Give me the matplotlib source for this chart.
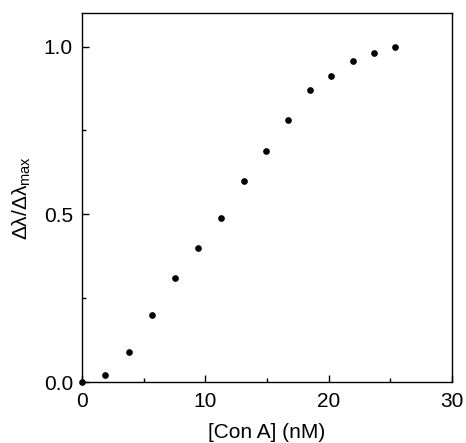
import numpy as np
import matplotlib
matplotlib.use("Agg")
import matplotlib.pyplot as plt
from matplotlib.ticker import MultipleLocator, FormatStrFormatter

plt.rcParams['font.family'] = ['Liberation Sans', 'DejaVu Sans']
plt.rcParams['mathtext.fontset'] = 'custom'
plt.rcParams['mathtext.rm'] = 'Liberation Sans'
plt.rcParams['mathtext.it'] = 'Liberation Sans'

# Con A concentration (nM) and normalised wavelength shift
con_a = [0.0, 1.87, 3.78, 5.68, 7.57, 9.4, 11.27, 13.1, 14.9, 16.7, 18.46, 20.2, 21.98, 23.7, 25.4]
shift = [0.0, 0.022, 0.089, 0.20, 0.311, 0.40, 0.49, 0.60, 0.69, 0.78, 0.869, 0.912, 0.957, 0.98, 1.0]

fig = plt.figure(figsize=(4.66, 4.43), dpi=100)
ax = fig.add_axes([82 / 466, 1 - 382 / 443, 370 / 466, 369 / 443])

ax.plot(con_a, shift, 'o', color='black', markersize=3.8, clip_on=False, zorder=3)

ax.set_xlim(0, 30)
ax.set_ylim(0, 1.1)
ax.xaxis.set_major_locator(MultipleLocator(10))
ax.xaxis.set_minor_locator(MultipleLocator(5))
ax.yaxis.set_major_locator(MultipleLocator(0.5))
ax.yaxis.set_minor_locator(MultipleLocator(0.25))
ax.yaxis.set_major_formatter(FormatStrFormatter('%.1f'))

ax.tick_params(which='both', direction='in', top=False, right=False, width=1, labelsize=15)
ax.tick_params(axis='x', pad=7)
ax.tick_params(axis='y', pad=6.5)
ax.tick_params(which='major', length=5)
ax.tick_params(which='minor', length=3)
for sp in ax.spines.values():
    sp.set_linewidth(1)

ax.set_xlabel('[Con A] (nM)', fontsize=15, labelpad=9)
ax.set_ylabel(r'$\Delta\lambda/\Delta\lambda_{\mathrm{max}}$', fontsize=15)
ax.yaxis.set_label_coords(-0.132, 0.5)

fig.savefig('out.png', dpi=100)
